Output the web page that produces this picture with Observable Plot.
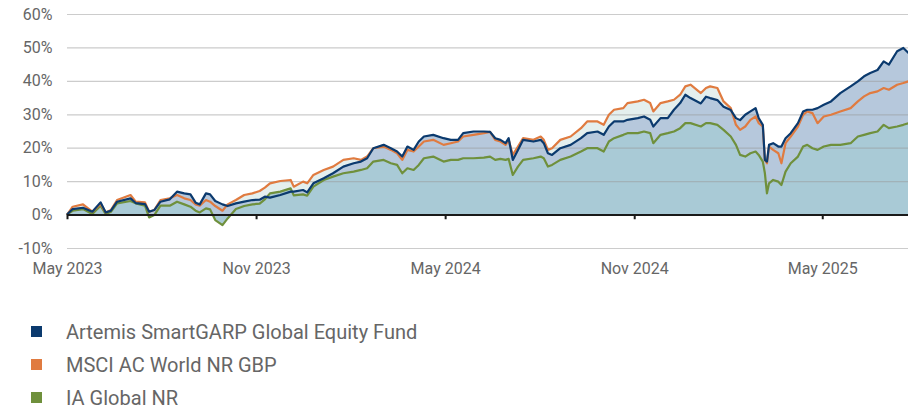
<!DOCTYPE html>
<html><head><meta charset="utf-8">
<script src="https://cdn.jsdelivr.net/npm/d3@7"></script>
<script src="https://cdn.jsdelivr.net/npm/@observablehq/plot@0.6"></script>
<style>
body{margin:0;background:#fff;font-family:Roboto,sans-serif;}
#legend{margin-top:15px;}
.item{display:flex;align-items:center;height:33px;font-size:20px;color:#666;}
.sw{width:11px;height:11px;margin-left:31px;margin-right:24px;}
</style></head><body><div id="chart"></div><div id="legend"></div>
<script>
const seriesNames = ["Artemis SmartGARP Global Equity Fund", "MSCI AC World NR GBP", "IA Global NR"];
const seriesColors = ["#0b3a6e", "#e07b40", "#6f903c"];
const xStart = "2023-05-31", xEnd = "2025-08-22";
const xTicks = ["2023-05-31","2023-11-30","2024-05-31","2024-11-30","2025-05-31"];
const yTicks = [-10,0,10,20,30,40,50,60];
const dates = ["2023-05-31","2023-06-05","2023-06-15","2023-06-24","2023-07-02","2023-07-07","2023-07-12","2023-07-18","2023-07-31","2023-08-05",
"2023-08-14","2023-08-18","2023-08-23","2023-08-29","2023-09-07","2023-09-14","2023-09-21","2023-09-27","2023-10-02","2023-10-06",
"2023-10-12","2023-10-16","2023-10-21","2023-10-28","2023-11-02","2023-11-10","2023-11-18","2023-11-26","2023-12-03","2023-12-08",
"2023-12-13","2023-12-23","2024-01-02","2024-01-05","2024-01-14","2024-01-18","2024-01-24","2024-02-03","2024-02-12","2024-02-22",
"2024-03-03","2024-03-10","2024-03-16","2024-03-22","2024-04-01","2024-04-08","2024-04-14","2024-04-19","2024-04-24","2024-04-30",
"2024-05-05","2024-05-10","2024-05-19","2024-05-29","2024-06-05","2024-06-12","2024-06-17","2024-06-27","2024-07-07","2024-07-13",
"2024-07-18","2024-07-23","2024-07-28","2024-07-31","2024-08-04","2024-08-09","2024-08-14","2024-08-24","2024-08-31","2024-09-03",
"2024-09-07","2024-09-11","2024-09-19","2024-09-29","2024-10-09","2024-10-15","2024-10-25","2024-10-31","2024-11-05","2024-11-10",
"2024-11-19","2024-11-23","2024-12-03","2024-12-09","2024-12-15","2024-12-18","2024-12-25","2025-01-01","2025-01-07","2025-01-13",
"2025-01-18","2025-01-23","2025-02-02","2025-02-07","2025-02-11","2025-02-18","2025-02-24","2025-03-03","2025-03-08","2025-03-12",
"2025-03-17","2025-03-22","2025-03-27","2025-03-30","2025-04-03","2025-04-05","2025-04-07","2025-04-09","2025-04-13","2025-04-18",
"2025-04-21","2025-04-25","2025-04-30","2025-05-07","2025-05-12","2025-05-16","2025-05-21","2025-05-26","2025-06-01","2025-06-08",
"2025-06-17","2025-06-27","2025-07-04","2025-07-10","2025-07-16","2025-07-23","2025-07-29","2025-08-03","2025-08-11","2025-08-17",
"2025-08-22"];
const fund = [0.3,1.8,2.2,1.0,3.8,0.8,1.3,4.0,5.0,3.6,
3.3,1.0,1.5,4.0,4.7,7.0,6.5,6.2,3.7,3.2,
6.5,6.2,4.2,3.2,2.7,3.5,4.0,4.5,4.6,5.5,
5.2,6.0,7.0,7.0,7.5,6.8,9.5,11.0,12.5,14.5,
15.5,16.0,17.0,20.0,21.0,20.0,19.0,17.5,20.5,19.5,
22.0,23.5,24.0,23.0,22.5,22.5,24.5,25.0,25.0,24.9,
23.0,22.5,21.5,23.0,16.5,19.5,22.5,22.0,22.5,21.5,
18.5,18.0,20.0,21.0,23.0,24.5,25.0,24.0,26.5,28.0,
28.0,28.5,29.0,29.5,28.5,26.5,29.0,29.0,31.5,33.5,
36.0,35.0,33.4,35.4,35.0,34.4,32.4,31.4,29.0,28.4,
30.0,31.0,32.0,29.0,27.0,16.5,16.0,21.0,21.5,20.5,
20.5,23.0,24.5,27.5,31.0,31.5,31.5,32.0,33.0,34.0,
36.5,38.5,40.0,41.5,42.5,43.4,46.0,45.0,49.0,50.0,
48.5];
const msci = [0.3,2.5,3.2,1.0,3.3,0.8,1.5,4.5,6.0,4.0,
3.8,1.0,1.5,4.5,5.0,6.0,5.0,4.5,3.2,2.8,
4.5,4.0,2.7,1.3,3.2,4.5,6.0,6.5,7.2,8.2,
9.5,10.2,10.5,8.5,10.0,9.5,12.0,13.5,14.5,16.5,
17.0,16.5,17.5,20.0,20.5,19.5,18.5,16.5,19.5,19.0,
20.5,22.0,22.5,21.0,21.5,22.0,23.5,24.0,24.5,24.9,
22.5,22.0,21.0,22.5,18.0,20.5,23.0,22.5,23.5,22.5,
19.5,20.0,22.5,23.5,26.0,28.0,28.0,27.0,30.0,31.5,
32.0,33.5,34.0,34.5,33.5,31.0,33.5,34.0,34.5,36.0,
38.5,39.0,36.5,38.0,38.5,38.0,34.0,32.0,27.0,25.5,
26.5,28.5,29.5,27.5,26.5,16.5,15.5,20.5,19.5,18.5,
15.5,21.5,23.5,26.5,30.0,31.0,30.5,27.5,29.5,30.0,
31.0,32.0,34.0,35.5,36.5,37.0,38.0,37.5,39.0,39.5,
40.0];
const ia = [0.3,1.3,1.8,0.3,2.8,0.3,1.0,3.5,4.2,3.5,
2.8,-0.7,0.0,2.8,2.8,4.0,3.2,2.5,1.3,0.8,
2.0,1.7,-1.5,-3.0,-1.0,1.8,2.7,3.2,3.4,4.7,
6.5,7.0,8.0,5.9,6.2,5.8,8.5,10.5,11.5,12.5,
13.0,13.5,14.0,16.0,16.5,15.5,15.0,12.5,14.0,13.5,
15.0,17.0,17.5,16.0,16.5,16.5,17.0,17.0,17.2,17.5,
16.5,16.8,16.5,16.8,12.0,14.5,16.5,17.0,17.5,17.0,
14.5,15.0,16.5,17.5,19.0,20.0,20.0,19.0,22.0,23.0,
24.0,24.5,24.5,25.0,24.5,21.5,24.0,24.5,25.0,26.0,
27.5,27.5,26.5,27.5,27.5,27.0,25.5,23.5,21.0,18.0,
17.5,18.5,19.0,18.0,16.0,12.5,6.5,9.5,10.5,10.0,
9.0,13.0,15.5,17.5,20.5,21.0,20.0,19.5,20.5,21.0,
21.0,21.5,23.5,24.0,24.5,25.0,27.0,26.0,26.5,27.0,
27.5];

const parse = d3.utcParse("%Y-%m-%d");
const rows = dates.map((d, i) => ({date: parse(d), fund: fund[i], msci: msci[i], ia: ia[i]}));
const tickDates = xTicks.map(parse);

const chart = Plot.plot({
  width: 908, height: 300,
  marginLeft: 67, marginRight: 0, marginTop: 14, marginBottom: 52,
  x: {type: "utc", domain: [parse(xStart), parse(xEnd)]},
  y: {domain: [-10, 60]},
  style: {fontFamily: "Roboto, sans-serif", fontSize: "16px", color: "#666", background: "#fff"},
  marks: [
    Plot.areaY(rows, {x: "date", y: "msci", fill: "#e4efee"}),
    Plot.areaY(rows, {x: "date", y: "fund", fill: "#b6c8dc"}),
    Plot.areaY(rows, {x: "date", y: "ia", fill: "#a9cad6"}),
    Plot.ruleY(yTicks, {stroke: "#999", strokeOpacity: 0.5, strokeWidth: 1.2}),
    Plot.lineY(rows, {x: "date", y: "ia", stroke: seriesColors[2], strokeWidth: 2.2}),
    Plot.lineY(rows, {x: "date", y: "msci", stroke: seriesColors[1], strokeWidth: 2.2}),
    Plot.lineY(rows, {x: "date", y: "fund", stroke: seriesColors[0], strokeWidth: 2.2}),
    Plot.ruleY([0], {stroke: "#1a1a1a", strokeWidth: 2}),
    Plot.ruleX(tickDates, {y1: 0, y2: -1.4, stroke: "#1a1a1a", strokeWidth: 2}),
    Plot.axisY(yTicks, {tickSize: 0, tickPadding: 15, tickFormat: d => d + "%", fontSize: 16}),
    Plot.axisX(tickDates, {tickSize: 0, tickPadding: 14, tickFormat: d3.utcFormat("%b %Y"), fontSize: 16})
  ]
});
document.getElementById("chart").append(chart);

const legend = document.getElementById("legend");
seriesNames.forEach((name, i) => {
  const item = document.createElement("div");
  item.className = "item";
  const sw = document.createElement("span");
  sw.className = "sw";
  sw.style.background = seriesColors[i];
  const label = document.createElement("span");
  label.textContent = name;
  item.append(sw, label);
  legend.append(item);
});
</script></body></html>
